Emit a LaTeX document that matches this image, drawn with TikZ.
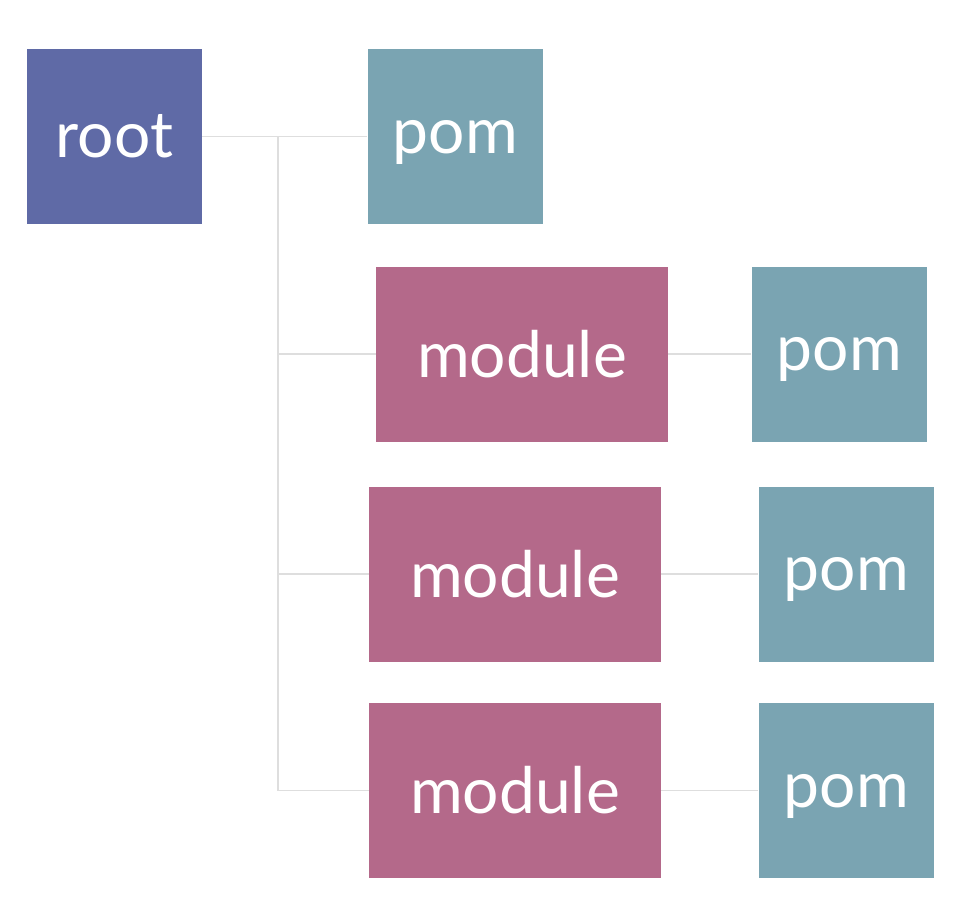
\documentclass[tikz,border=0pt]{standalone}
\usepackage{fontspec}
\setmainfont{Lato}
\usetikzlibrary{positioning}
\definecolor{rootblue}{HTML}{5F6AA6}
\definecolor{pomteal}{HTML}{7AA4B2}
\definecolor{modpink}{HTML}{B4698A}
\definecolor{linegray}{HTML}{DEDEDE}
\begin{document}
\begin{tikzpicture}[node distance = 2cm, auto,
    box/.style={minimum width=3.5cm, minimum height=3.5cm, inner sep=0pt,
      text=white, font=\fontsize{36.5}{42}\selectfont},
    rootbox/.style={box, fill=rootblue},
    pombox/.style={box, fill=pomteal, text depth=0pt},
    modbox/.style={box, fill=modpink, minimum width=5.84cm},
    link/.style={draw=linegray, line width=1.1pt}]
    \useasboundingbox (0,0) rectangle (19.08,-18.16);
      \node (root) [rootbox] at (2.29,-2.73) {root};
      \node (pom) [pombox, right=3.3cm of root] {pom};
      \node (modA) [modbox] at (10.44,-7.08) {module};
      \node (pomA) [pombox, right=1.66cm of modA] {pom};
      \node (modB) [modbox] at (10.30,-11.48) {module};
      \node (pomB) [pombox, right=1.94cm of modB] {pom};
      \node (modC) [modbox] at (10.30,-15.81) {module};
      \node (pomC) [pombox, right=1.94cm of modC] {pom};
    \path (root.east) -- (pom.west) coordinate[pos=0.46] (split);
    \draw [link] (root) to (pom);
    \draw [link] (split) |- (modC.west);
    \draw [link] (split |- modA.west) to (modA.west);
    \draw [link] (split |- modB.west) to (modB.west);
    \draw [link] (modA) to (pomA);
    \draw [link] (modB) to (pomB);
    \draw [link] (modC) to (pomC);
      \end{tikzpicture}
\end{document}
